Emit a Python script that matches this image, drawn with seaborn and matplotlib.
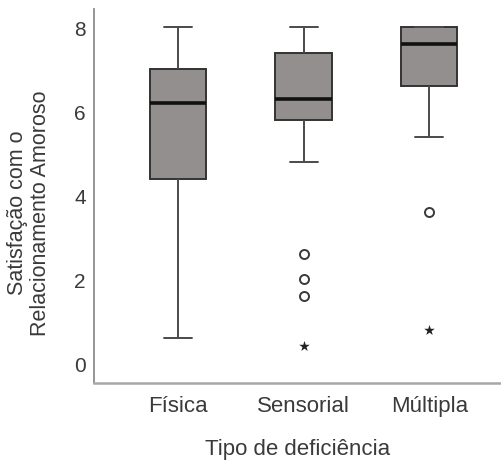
import matplotlib
matplotlib.use("Agg")
import matplotlib.pyplot as plt
import seaborn as sns
import pandas as pd

# ---- data ----
categories = ["Física", "Sensorial", "Múltipla"]
# five-number summaries: lower whisker, Q1, median, Q3, upper whisker
fisica_summary = [0.6, 4.4, 6.2, 7.0, 8.0]
sensorial_summary = [4.8, 5.8, 6.3, 7.4, 8.0]
multipla_summary = [5.4, 6.6, 7.6, 8.0, 8.0]
# outliers (circles) and extremes (stars)
sensorial_outliers = [2.6, 2.0, 1.6]
sensorial_extremes = [0.4]
multipla_outliers = [3.6]
multipla_extremes = [0.8]
yticks = [0, 2, 4, 6, 8]
x_title = "Tipo de deficiência"
y_title = "Satisfação com o\nRelacionamento Amoroso"

box_df = pd.DataFrame({
    "tipo": [categories[0]] * len(fisica_summary)
    + [categories[1]] * len(sensorial_summary)
    + [categories[2]] * len(multipla_summary),
    "valor": fisica_summary + sensorial_summary + multipla_summary,
})
out_df = pd.DataFrame({
    "tipo": [categories[1]] * len(sensorial_outliers) + [categories[2]] * len(multipla_outliers),
    "valor": sensorial_outliers + multipla_outliers,
})
ext_df = pd.DataFrame({
    "tipo": [categories[1]] * len(sensorial_extremes) + [categories[2]] * len(multipla_extremes),
    "valor": sensorial_extremes + multipla_extremes,
})

sns.set_style("white")
plt.rcParams["font.family"] = ["Liberation Sans", "DejaVu Sans"]
text_color = "#3a3a3a"

W, H = 502, 464
fig = plt.figure(figsize=(W / 100, H / 100), dpi=100)
ax = fig.add_axes([94 / W, (H - 384) / H, (W - 94) / W, (384 - 10) / H])

edge = "#333333"
sns.boxplot(
    data=box_df, x="tipo", y="valor", order=categories, ax=ax,
    whis=(0, 100), width=0.45, color="#938f8f", linecolor=edge, linewidth=1.4,
    showfliers=False, saturation=1,
    medianprops=dict(color="#111111", linewidth=2.6),
    boxprops=dict(facecolor="#938f8f", edgecolor=edge),
    whiskerprops=dict(color="#4a4a4a", linewidth=1.4),
    capprops=dict(color="#4a4a4a", linewidth=1.4),
)
sns.stripplot(
    data=out_df, x="tipo", y="valor", order=categories, ax=ax, jitter=False,
    marker="o", size=6.5, color="white", edgecolor="#3a3a3a", linewidth=1.4, zorder=5,
)
sns.stripplot(
    data=ext_df, x="tipo", y="valor", order=categories, ax=ax, jitter=False,
    marker="*", size=8, color="#222222", linewidth=0, zorder=5,
)

ax.set_xlim(-0.67, 2.58)
ax.set_ylim(-0.47, 8.44)
ax.set_yticks(yticks)
ax.set_yticklabels([str(v) for v in yticks])
ax.tick_params(axis="both", length=0, colors=text_color)
ax.tick_params(axis="x", labelsize=16, pad=8.5)
ax.tick_params(axis="y", labelsize=15, pad=6)

for s in ["top", "right"]:
    ax.spines[s].set_visible(False)
ax.spines["left"].set_color("#8c8c8c")
ax.spines["left"].set_linewidth(1.3)
ax.spines["bottom"].set_color("#a8a8a8")
ax.spines["bottom"].set_linewidth(1.8)

ax.set_xlabel(x_title, fontsize=16, color=text_color, labelpad=16)
ax.set_ylabel("")
fig.text(29 / W, 1 - 213 / H, y_title, rotation=90, ha="center", va="center",
         multialignment="center", fontsize=15.5, color=text_color, linespacing=1.12)

fig.savefig("out.png", dpi=100)
